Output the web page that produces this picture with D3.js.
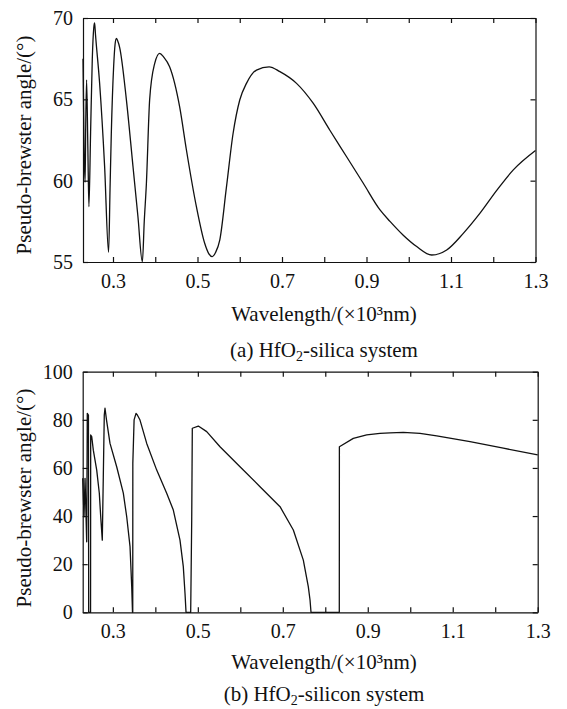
<!DOCTYPE html>
<html>
<head>
<meta charset="utf-8">
<script src="https://cdn.jsdelivr.net/npm/d3@7"></script>
<style>
  html, body { margin: 0; padding: 0; background: #fff; }
  svg { display: block; }
  text { font-family: "Liberation Serif", "Times New Roman", serif; fill: #111; }
</style>
</head>
<body>
<svg id="chart" width="567" height="709"></svg>
<script>
// ---------- data ----------
// (a) HfO2-silica system
const wavelengthA = [0.229, 0.2315, 0.234, 0.2355, 0.2375, 0.2405, 0.243, 0.247, 0.251, 0.2545, 0.2565, 0.2585,
  0.2683, 0.2801, 0.2896, 0.293, 0.296, 0.3015, 0.305, 0.308, 0.311, 0.3157, 0.3316, 0.3472, 0.359, 0.3695,
  0.374, 0.379, 0.3868, 0.3986, 0.4105, 0.42, 0.434, 0.458, 0.4737, 0.4974, 0.517, 0.527, 0.535, 0.543,
  0.5527, 0.5685, 0.5842, 0.600, 0.6159, 0.6396, 0.6695, 0.695, 0.7344, 0.7737, 0.8133, 0.8529, 0.8924,
  0.932, 0.9556, 0.987, 1.0188, 1.0543, 1.0898, 1.1291, 1.1687, 1.2082, 1.2475, 1.3];
const angleA = [67.5, 62.0, 59.9, 63.5, 66.2, 62.0, 58.4, 63.0, 67.5, 69.4, 69.7, 69.0,
  66.0, 60.9, 55.6, 59.5, 62.9, 67.0, 68.4, 68.75, 68.6, 68.2, 65.0, 60.9, 57.8, 55.0,
  57.5, 59.8, 65.0, 67.2, 67.83, 67.6, 67.0, 64.5, 61.9, 58.4, 56.15, 55.5, 55.33, 55.6,
  56.35, 59.6, 62.9, 64.96, 65.98, 66.8, 67.0, 66.7, 65.98, 64.76, 63.1, 61.47, 59.84,
  58.2, 57.5, 56.65, 55.95, 55.43, 55.74, 56.76, 58.0, 59.4, 60.66, 61.85];

// (b) HfO2-silicon system
const wavelengthB = [0.229, 0.2321, 0.2345, 0.2384, 0.2398, 0.2425, 0.2431, 0.2475, 0.2478, 0.2502, 0.254,
  0.262, 0.2681, 0.2714, 0.2751, 0.2775, 0.2798, 0.2815, 0.285, 0.2933, 0.309, 0.3246, 0.3326, 0.3404,
  0.3444, 0.3462, 0.3468, 0.347, 0.35, 0.3545, 0.3576, 0.3639, 0.3797, 0.4032, 0.4267, 0.4423, 0.458,
  0.4658, 0.4698, 0.4722, 0.4832, 0.4856, 0.487, 0.5011, 0.5209, 0.5522, 0.5993, 0.6464, 0.6935, 0.7248,
  0.7483, 0.7601, 0.7641, 0.7664, 0.833, 0.8332, 0.866, 0.8975, 0.9288, 0.9524, 0.9837, 1.023, 1.0623,
  1.1407, 1.2191, 1.3];
const angleB = [55.7, 39.7, 55.7, 29.3, 82.7, 82.0, 0, 0, 73.7, 73.0, 67.4,
  59.1, 49.5, 39.7, 30.0, 56.4, 82.0, 84.8, 80.0, 70.2, 60.5, 49.5, 39.7, 27.3,
  10.6, 0, 0, 62.0, 80.0, 82.7, 82.0, 79.9, 70.2, 59.1, 49.5, 42.5, 30.0,
  19.0, 7.9, 0, 0, 38.4, 76.5, 77.4, 75.1, 68.8, 60.5, 52.2, 43.9, 34.2,
  21.7, 10.6, 5.1, 0, 0, 68.8, 72.3, 73.7, 74.4, 74.6, 74.8, 74.4, 73.3,
  70.9, 68.2, 65.4];

// ticks
const xTicks = [0.3, 0.4, 0.5, 0.6, 0.7, 0.8, 0.9, 1.0, 1.1, 1.2, 1.3];
const xTickLabels = [0.3, 0.5, 0.7, 0.9, 1.1, 1.3];
const yTicksA = [55, 60, 65, 70];
const yTicksB = [0, 20, 40, 60, 80, 100];
const xDomain = [0.229, 1.3];

const yTitle = "Pseudo-brewster angle/(°)";
const xTitle = "Wavelength/(×10³nm)";

// ---------- drawing ----------
const svg = d3.select("#chart");
svg.append("rect").attr("width", 567).attr("height", 709).attr("fill", "#fff");

function panel(cfg) {
  const x = d3.scaleLinear().domain(xDomain).range([cfg.left, cfg.right]);
  const y = d3.scaleLinear().domain(cfg.yDomain).range([cfg.bottom, cfg.top]);
  const g = svg.append("g");
  const fmtX = d3.format(".1f");
  const isLabel = d => xTickLabels.some(v => Math.abs(v - d) < 1e-9);

  // bottom axis
  g.append("g").attr("transform", `translate(0,${cfg.bottom})`)
    .call(d3.axisBottom(x).tickValues(xTicks).tickSizeInner(-5).tickSizeOuter(0).tickPadding(12)
      .tickFormat(d => isLabel(d) ? fmtX(d) : ""));
  // top axis
  g.append("g").attr("transform", `translate(0,${cfg.top})`)
    .call(d3.axisTop(x).tickValues(xTicks).tickSizeInner(-5).tickSizeOuter(0).tickFormat(""));
  // left axis
  g.append("g").attr("transform", `translate(${cfg.left},0)`)
    .call(d3.axisLeft(y).tickValues(cfg.yTicks).tickSizeInner(-5).tickSizeOuter(0).tickPadding(10)
      .tickFormat(d3.format("d")));
  // right axis
  g.append("g").attr("transform", `translate(${cfg.right},0)`)
    .call(d3.axisRight(y).tickValues(cfg.yTicks).tickSizeInner(-5).tickSizeOuter(0).tickFormat(""));

  g.selectAll(".domain").attr("stroke", "#111").attr("stroke-width", 1.2);
  g.selectAll(".tick line").attr("stroke", "#111").attr("stroke-width", 1.2);
  g.selectAll(".tick text").style("font-family", '"Liberation Serif", "Times New Roman", serif')
    .style("font-size", "20px").attr("fill", "#111");

  // curve
  const line = d3.line()
    .x(d => x(d[0])).y(d => y(d[1]))
    .curve(cfg.curve);
  const pts = cfg.wl.map((w, i) => [w, cfg.ang[i]]);
  g.append("path").datum(pts)
    .attr("d", line)
    .attr("fill", "none")
    .attr("stroke", "#111")
    .attr("stroke-width", 1.3)
    .attr("stroke-linejoin", "round");

  // y title
  g.append("text")
    .attr("transform", `translate(${cfg.yTitleX},${cfg.yTitleY}) rotate(-90)`)
    .attr("text-anchor", "middle")
    .style("font-size", "21px")
    .text(yTitle);

  // x title
  g.append("text")
    .attr("x", 324).attr("y", cfg.xTitleY)
    .attr("text-anchor", "middle")
    .style("font-size", "21px")
    .text(xTitle);

  // caption
  const cap = g.append("text")
    .attr("x", 324).attr("y", cfg.capY)
    .attr("text-anchor", "middle")
    .style("font-size", "21px");
  cap.append("tspan").text(cfg.capPre);
  cap.append("tspan").attr("dy", 4).style("font-size", "14px").text("2");
  cap.append("tspan").attr("dy", -4).text(cfg.capPost);
}

panel({
  left: 83, right: 535.5, top: 18, bottom: 262,
  yDomain: [55, 70], yTicks: yTicksA,
  wl: wavelengthA, ang: angleA, curve: d3.curveMonotoneX,
  yTitleX: 31, yTitleY: 145,
  xTitleY: 321, capY: 357,
  capPre: "(a) HfO", capPost: "-silica system"
});

panel({
  left: 82.7, right: 537.7, top: 371.7, bottom: 612.3,
  yDomain: [0, 100], yTicks: yTicksB,
  wl: wavelengthB, ang: angleB, curve: d3.curveLinear,
  yTitleX: 31, yTitleY: 498,
  xTitleY: 669, capY: 701,
  capPre: "(b) HfO", capPost: "-silicon system"
});
</script>
</body>
</html>
